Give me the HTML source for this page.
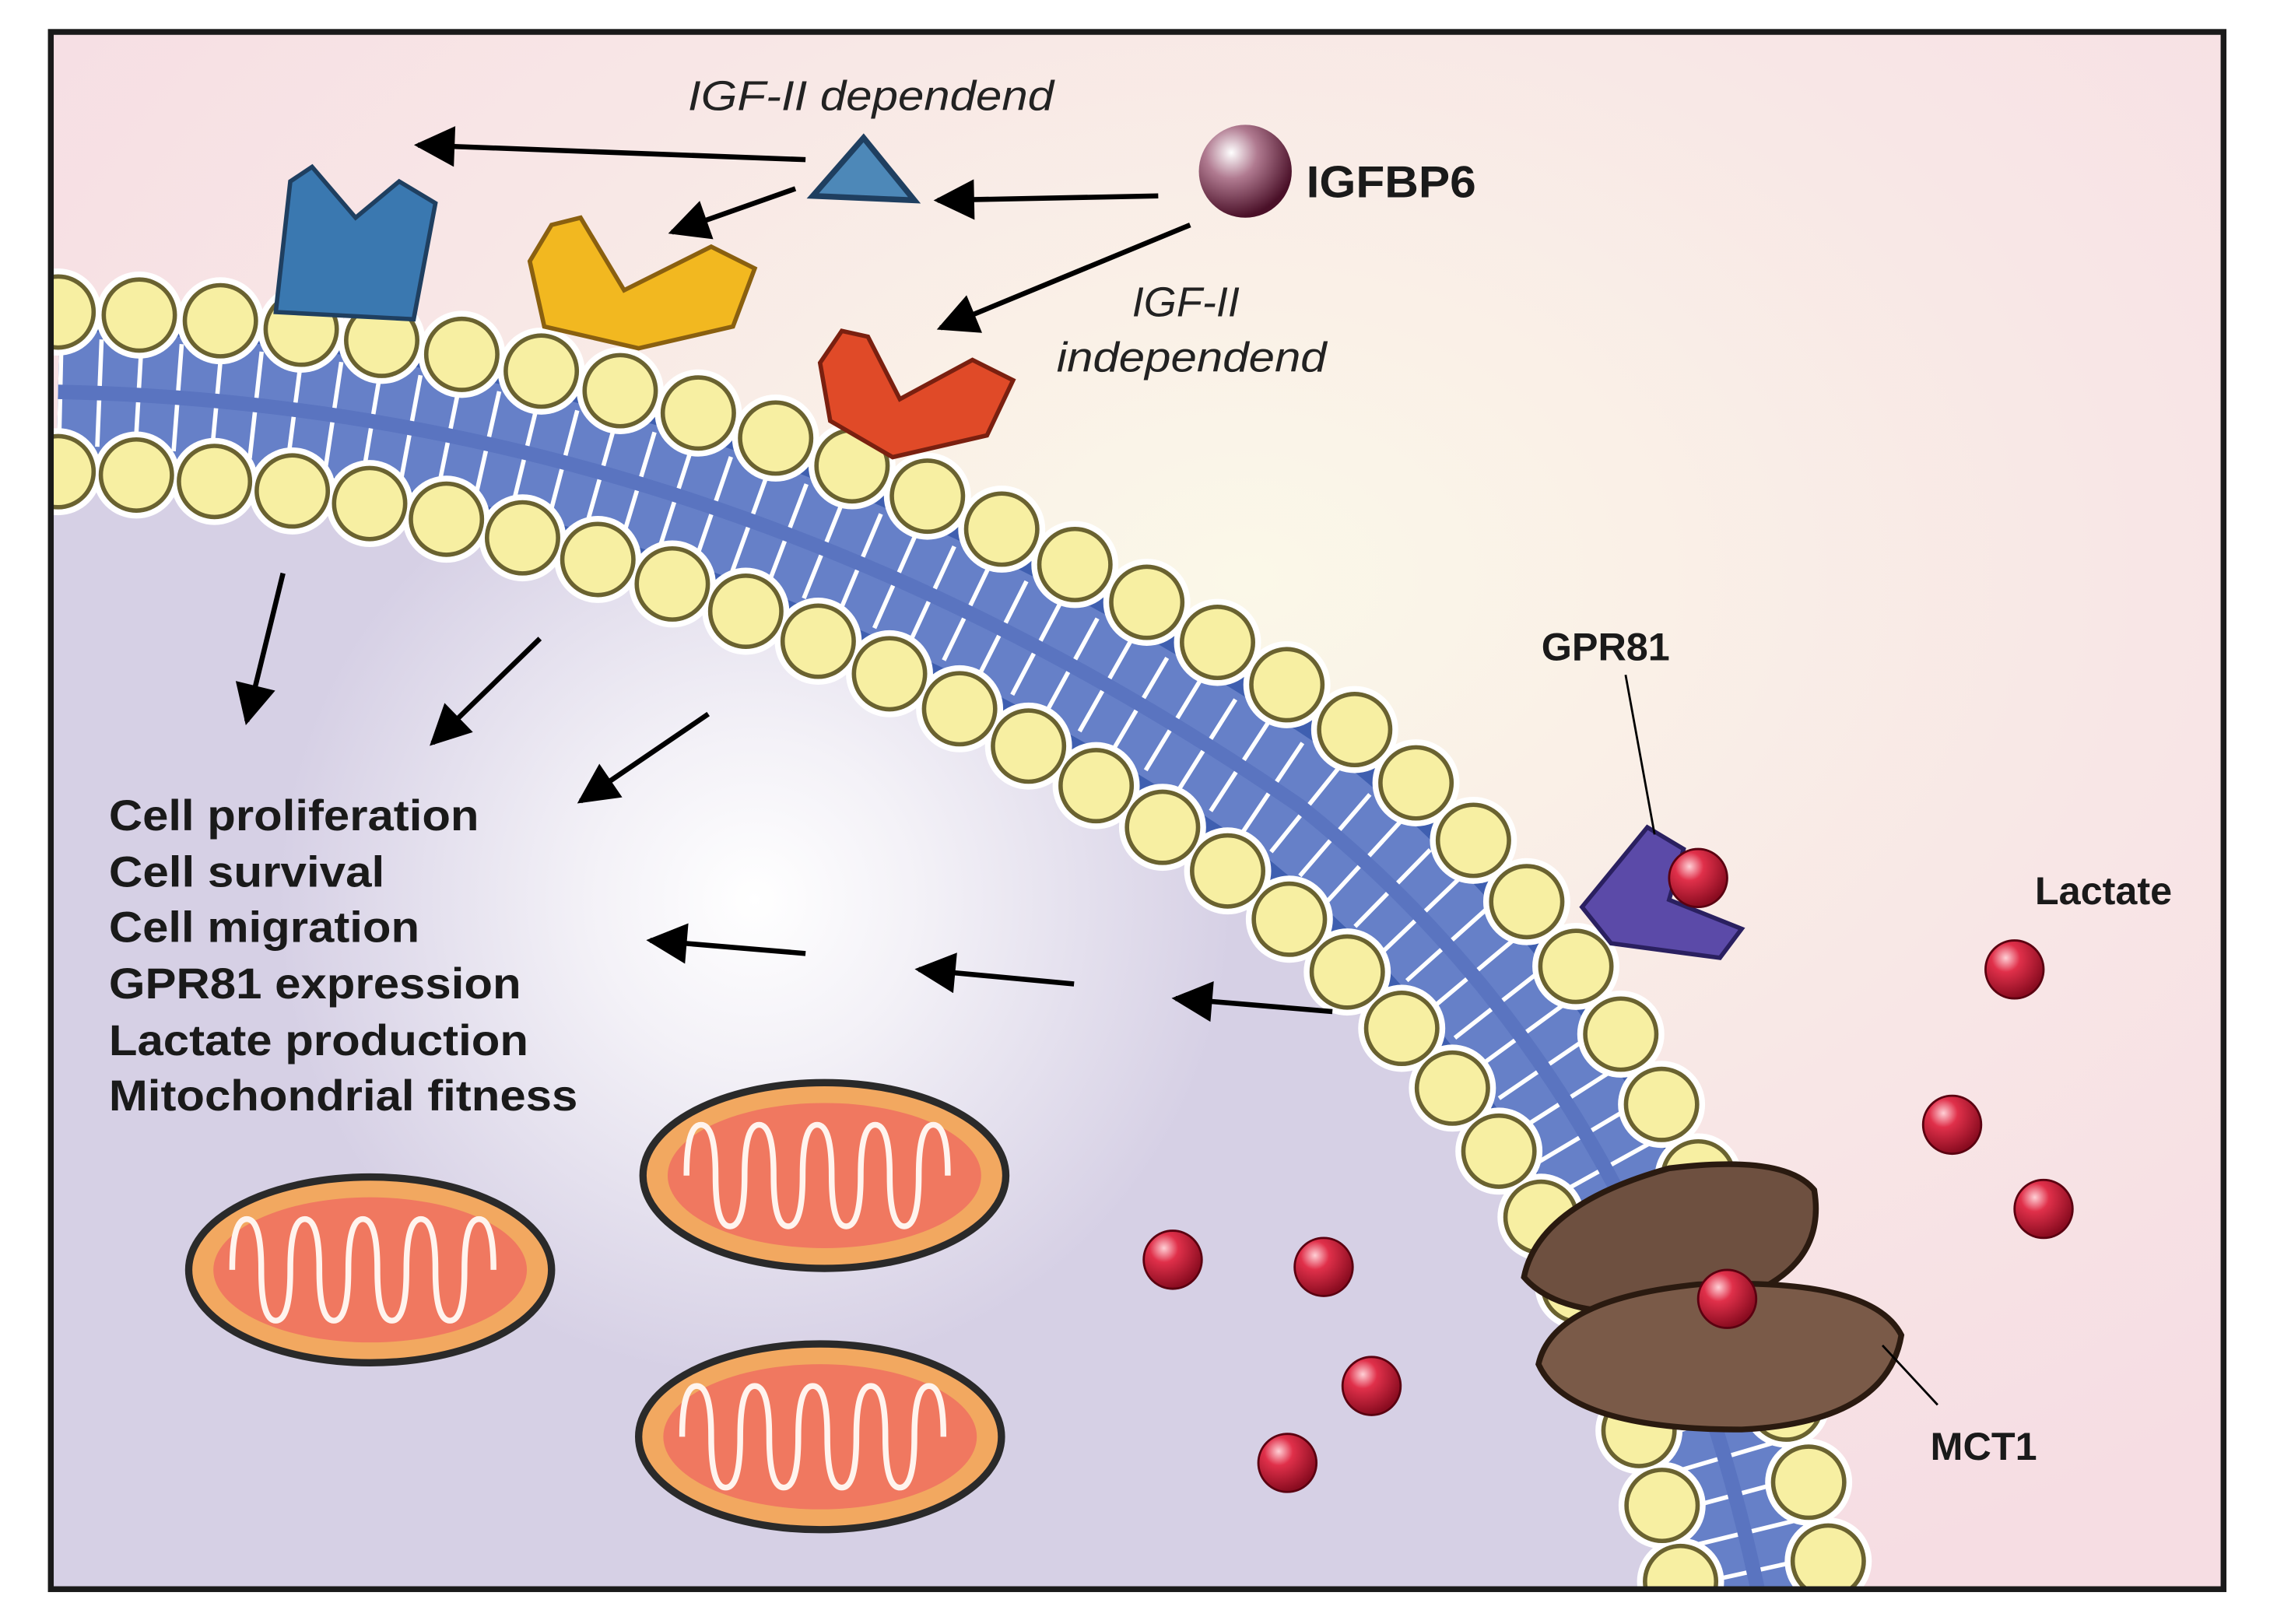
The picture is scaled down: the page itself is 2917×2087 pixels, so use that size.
<!DOCTYPE html>
<html><head><meta charset="utf-8"><style>
html,body{margin:0;padding:0;background:#fff}
svg{display:block}
text{font-family:"Liberation Sans",Arial,sans-serif}
</style></head><body>
<svg width="2917" height="2087" viewBox="0 0 1564 1119" xmlns="http://www.w3.org/2000/svg">
<defs>
<clipPath id="fr"><rect x="35" y="22" width="1497" height="1073"/></clipPath>
<radialGradient id="bgp" cx="0.55" cy="0.35" r="0.7">
<stop offset="0" stop-color="#fbf8e8"/><stop offset="0.6" stop-color="#f8e6e6"/><stop offset="1" stop-color="#f6dde3"/>
</radialGradient>
<radialGradient id="glow" cx="520" cy="620" r="330" gradientUnits="userSpaceOnUse">
<stop offset="0" stop-color="#ffffff"/><stop offset="0.35" stop-color="#f3f1f7"/><stop offset="1" stop-color="#d6d0e5"/>
</radialGradient>
<radialGradient id="ball" cx="0.35" cy="0.3" r="0.7">
<stop offset="0" stop-color="#ffd0d6"/><stop offset="0.35" stop-color="#e0304a"/><stop offset="1" stop-color="#8a0c20"/>
</radialGradient>
<radialGradient id="igf" cx="0.35" cy="0.3" r="0.7">
<stop offset="0" stop-color="#ffffff"/><stop offset="0.4" stop-color="#b07a90"/><stop offset="1" stop-color="#4a1028"/>
</radialGradient>
<marker id="a" viewBox="0 0 10 10" refX="9" refY="5" markerWidth="34" markerHeight="28" markerUnits="userSpaceOnUse" orient="auto">
<path d="M0,0 L10,5 L0,10 z" fill="#000"/></marker>
<g id="mito">
<ellipse rx="125" ry="64" fill="#f2a860" stroke="#2a2a2a" stroke-width="5"/>
<ellipse rx="108" ry="50" fill="#f07860"/>
<path d="M-95,0 q0,-35 10,-35 q10,0 10,35 q0,35 10,35 q10,0 10,-35 q0,-35 10,-35 q10,0 10,35 q0,35 10,35 q10,0 10,-35 q0,-35 10,-35 q10,0 10,35 q0,35 10,35 q10,0 10,-35 q0,-35 10,-35 q10,0 10,35 q0,35 10,35 q10,0 10,-35 q0,-35 10,-35 q10,0 10,35" fill="none" stroke="#fff4ee" stroke-width="4"/>
</g>
</defs>
<rect width="1564" height="1119" fill="#fff"/>
<rect x="35" y="22" width="1497" height="1073" fill="url(#bgp)"/>
<g clip-path="url(#fr)">
<path d="M35 325 Q470 335 860 610 Q1100 800 1160 1095 L35 1095 Z" fill="url(#glow)"/>
<path d="M40 270 Q495 280 895 555 Q1140 750 1212 1100" fill="none" stroke="#3f5fb0" stroke-width="112"/>
<path d="M40 270 Q495 280 895 555 Q1140 750 1212 1100" fill="none" stroke="#6680c8" stroke-width="84"/>
<path d="M40 270 Q495 280 895 555 Q1140 750 1212 1100" fill="none" stroke="#fff" stroke-width="74" stroke-dasharray="3 24"/>
<path d="M40 270 Q495 280 895 555 Q1140 750 1212 1100" fill="none" stroke="#5a74c0" stroke-width="10"/>
<path d="M40 215 Q520 225 930 500 Q1180 700 1265 1100" fill="none" stroke="#fff" stroke-width="60" stroke-dasharray="0 56" stroke-linecap="round"/>
<path d="M40 215 Q520 225 930 500 Q1180 700 1265 1100" fill="none" stroke="#6a6230" stroke-width="52" stroke-dasharray="0 56" stroke-linecap="round"/>
<path d="M40 215 Q520 225 930 500 Q1180 700 1265 1100" fill="none" stroke="#f7efa2" stroke-width="46" stroke-dasharray="0 56" stroke-linecap="round"/>
<path d="M40 325 Q470 335 860 610 Q1100 800 1160 1100" fill="none" stroke="#fff" stroke-width="60" stroke-dasharray="0 54" stroke-linecap="round"/>
<path d="M40 325 Q470 335 860 610 Q1100 800 1160 1100" fill="none" stroke="#6a6230" stroke-width="52" stroke-dasharray="0 54" stroke-linecap="round"/>
<path d="M40 325 Q470 335 860 610 Q1100 800 1160 1100" fill="none" stroke="#f7efa2" stroke-width="46" stroke-dasharray="0 54" stroke-linecap="round"/>
</g>
<path d="M190 215 L200 125 L215 115 L245 150 L275 125 L300 140 L285 220 Z" fill="#3a78b0" stroke="#1f3f60" stroke-width="3"/>
<path d="M365 180 L380 155 L400 150 L430 200 L490 170 L520 185 L505 225 L440 240 L375 225 Z" fill="#f2b820" stroke="#8a6010" stroke-width="3"/>
<path d="M565 250 L580 228 L598 232 L620 275 L670 248 L698 262 L680 300 L615 315 L572 290 Z" fill="#e04a28" stroke="#7a2010" stroke-width="3"/>
<path d="M560 135 L595 95 L630 138 Z" fill="#4d88b8" stroke="#1f3f60" stroke-width="4"/>
<circle cx="858" cy="118" r="32" fill="url(#igf)"/>
<path d="M1090 625 L1135 570 L1160 585 L1150 620 L1200 640 L1185 660 L1110 650 Z" fill="#5b4aa8" stroke="#2a2060" stroke-width="3"/>
<path d="M1050 880 Q1060 830 1150 805 Q1230 795 1250 820 Q1260 880 1180 900 Q1080 915 1050 880 Z" fill="#6e5040" stroke="#2a1a10" stroke-width="4"/>
<path d="M1060 940 Q1070 895 1170 885 Q1290 880 1310 920 Q1300 980 1200 985 Q1080 985 1060 940 Z" fill="#7a5a48" stroke="#2a1a10" stroke-width="4"/>
<use href="#mito" x="255" y="875"/>
<use href="#mito" x="568" y="810"/>
<use href="#mito" x="565" y="990"/>
<g fill="url(#ball)" stroke="#5a0010" stroke-width="1.5">
<circle cx="808" cy="868" r="20"/><circle cx="912" cy="873" r="20"/><circle cx="945" cy="955" r="20"/><circle cx="887" cy="1008" r="20"/>
<circle cx="1190" cy="895" r="20"/><circle cx="1170" cy="605" r="20"/><circle cx="1388" cy="668" r="20"/><circle cx="1345" cy="775" r="20"/><circle cx="1408" cy="833" r="20"/>
</g>
<g stroke="#000" stroke-width="3.5" marker-end="url(#a)">
<line x1="555" y1="110" x2="288" y2="100"/>
<line x1="548" y1="130" x2="463" y2="160"/>
<line x1="798" y1="135" x2="646" y2="138"/>
<line x1="820" y1="155" x2="648" y2="226"/>
<line x1="195" y1="395" x2="170" y2="497"/>
<line x1="372" y1="440" x2="298" y2="512"/>
<line x1="488" y1="492" x2="400" y2="552"/>
<line x1="555" y1="657" x2="448" y2="648"/>
<line x1="740" y1="678" x2="633" y2="668"/>
<line x1="918" y1="697" x2="810" y2="688"/>
</g>
<line x1="1120" y1="465" x2="1140" y2="575" stroke="#000" stroke-width="1.5"/>
<line x1="1297" y1="927" x2="1335" y2="968" stroke="#000" stroke-width="1.5"/>
<rect x="35" y="22" width="1497" height="1073" fill="none" stroke="#1a1a1a" stroke-width="4"/>
<g font-size="29" font-style="italic" fill="#222">
<text x="474" y="76" textLength="252" lengthAdjust="spacingAndGlyphs">IGF-II dependend</text>
<text x="780" y="218">IGF-II</text>
<text x="728" y="256" textLength="186" lengthAdjust="spacingAndGlyphs">independend</text>
</g>
<g font-weight="bold" fill="#1a1a1a">
<text x="900" y="136" font-size="31" textLength="117" lengthAdjust="spacingAndGlyphs">IGFBP6</text>
<text x="1062" y="455" font-size="27">GPR81</text>
<text x="1402" y="623" font-size="27">Lactate</text>
<text x="1330" y="1006" font-size="27">MCT1</text>
<g font-size="30" lengthAdjust="spacingAndGlyphs">
<text x="75" y="572" textLength="255" lengthAdjust="spacingAndGlyphs">Cell proliferation</text>
<text x="75" y="611" textLength="190" lengthAdjust="spacingAndGlyphs">Cell survival</text>
<text x="75" y="649" textLength="214" lengthAdjust="spacingAndGlyphs">Cell migration</text>
<text x="75" y="688" textLength="284" lengthAdjust="spacingAndGlyphs">GPR81 expression</text>
<text x="75" y="727" textLength="289" lengthAdjust="spacingAndGlyphs">Lactate production</text>
<text x="75" y="765" textLength="323" lengthAdjust="spacingAndGlyphs">Mitochondrial fitness</text>
</g></g>
</svg>
</body></html>
